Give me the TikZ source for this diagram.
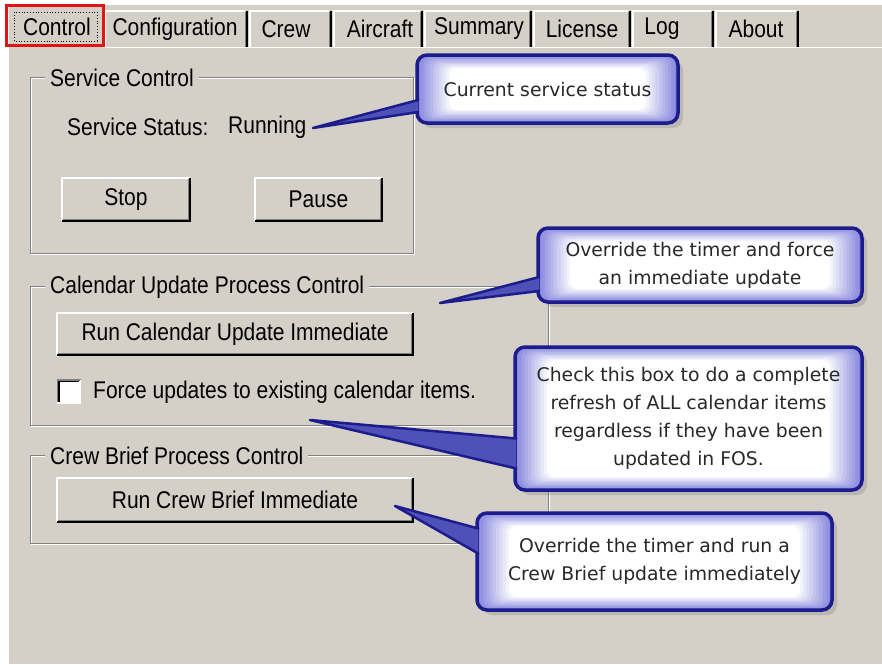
\documentclass[tikz,border=0pt]{standalone}
\usepackage{fontspec}
\usepackage{graphicx}
\setmainfont{Liberation Sans}
\newfontfamily\callfont{DejaVu Sans}
\usetikzlibrary{calc,shadows}
\definecolor{winbg}{RGB}{212,208,200}
\definecolor{windk}{RGB}{128,128,128}
\definecolor{navy}{RGB}{28,28,140}
\definecolor{cedge}{RGB}{135,135,222}
\definecolor{wedgefill}{RGB}{80,80,185}
\definecolor{redbox}{RGB}{225,20,20}
\definecolor{calltext}{RGB}{40,40,40}
\newcommand{\dt}[1]{\scalebox{1}[1.15]{#1}}
\tikzset{
  dlg/.style={font=\fontsize{21}{25}\selectfont, text=black, inner sep=0pt},
  grplabel/.style={dlg, fill=winbg, inner xsep=5pt, inner ysep=2pt, anchor=west},
  btn/.style={dlg, fill=winbg},
  callbox/.style={draw=navy, line width=3.5pt, rounded corners=10pt, fill=cedge,
    drop shadow={shadow xshift=5pt, shadow yshift=-5pt, opacity=0.3},
    path picture={
      \foreach \i in {1,...,10} {
        \pgfmathtruncatemacro{\pc}{100-10*\i}
        \fill[cedge!\pc!white, rounded corners=8pt]
          ([shift={(3.2*\i,1.3*\i)}]path picture bounding box.north west) rectangle
          ([shift={(-3.2*\i,-1.3*\i)}]path picture bounding box.south east);
      }
    },
    font=\callfont\fontsize{18.8}{28}\selectfont, text=calltext, align=center, inner sep=0pt},
  wedge/.style={fill=wedgefill, draw=navy, line width=2.5pt, line join=round, line cap=round}
}
\begin{document}
\begin{tikzpicture}[x=1pt,y=-1pt]
\useasboundingbox (0,0) rectangle (882,664);
\fill[white] (0,0) rectangle (882,664);
\fill[winbg] (7,5) rectangle (882,664);
% panel highlights
\draw[white,line width=1.5] (103,47.5) -- (882,47.5);
\draw[white,line width=1.5] (7.75,47) -- (7.75,664);
% unselected tabs
\foreach \nm/\xa/\xb/\xt/\tx in {config/104/247/175/Configuration, crew/249/331/286/Crew, aircraft/333/422/380/Aircraft, summary/424/531/479/Summary, license/533/630/582/License, log/632/713/662/Log, about/715/798/756/About} {
  \draw[white,line width=1.5] ({\xa+0.75},47) -- ({\xa+0.75},10.75) -- ({\xb-2},10.75);
  \draw[black,line width=1.5] (\xb,11) -- (\xb,47);
  \draw[windk,line width=1] ({\xb-1.75},12) -- ({\xb-1.75},47);
  \node[dlg] (tab-\nm) at (\xt,29) {\dt{\tx}};
}
% selected tab
\draw[white,line width=1.5] (7.75,47) -- (7.75,5.75) -- (101,5.75);
\node[dlg] (tab-control) at (57,27) {\dt{Control}};
\draw[black,dotted,line width=0.8] (14,12) rectangle (97,41);
\draw[redbox,line width=3] (6,5.5) rectangle (103,45);
% group boxes
\draw[white] (31,78) rectangle (414,254);
\draw[windk] (30,77) rectangle (413,253);
\node[grplabel] (grp-service) at (45,78) {\dt{Service Control}};
\draw[white] (31,287) rectangle (549,426);
\draw[windk] (30,286) rectangle (548,425);
\node[grplabel] (grp-calendar) at (45,287) {\dt{Calendar Update Process Control}};
\draw[white] (31,456) rectangle (549,544);
\draw[windk] (30,455) rectangle (548,543);
\node[grplabel] (grp-crew) at (45,456) {\dt{Crew Brief Process Control}};
% status line
\node[dlg,anchor=west] (status) at (67,127) {\dt{Service Status:}};
\node[dlg,anchor=west] (running) at (228,127) {\dt{Running}};
% buttons
\node[btn,minimum width=128,minimum height=43] (stop) at (126,199.5) {\dt{Stop}};
\node[btn,minimum width=127,minimum height=43] (pause) at (318.5,199.5) {\dt{Pause}};
\node[btn,minimum width=356,minimum height=42] (runcal) at (235,334) {\dt{Run Calendar Update Immediate}};
\node[btn,minimum width=356,minimum height=44] (runcrew) at (235,500) {\dt{Run Crew Brief Immediate}};
\foreach \b in {stop,pause,runcal,runcrew} {
  \draw[white,line width=1.5] (\b.south west) |- (\b.north east);
  \draw[black,line width=1.5] (\b.south west) -| (\b.north east);
  \draw[windk,line width=1.5] ([shift={(1.5,-1.5)}]\b.south west) -| ([shift={(-1.5,1.5)}]\b.north east);
}
% checkbox
\node[fill=white,minimum size=23,inner sep=0pt] (chk) at (69,391.5) {};
\draw[windk,line width=1.5] (chk.south west) |- (chk.north east);
\draw[black,line width=1.5] ([shift={(1.5,-1.5)}]chk.south west) |- ([shift={(-1.5,1.5)}]chk.north east);
\draw[white,line width=1.5] (chk.south west) -| (chk.north east);
\node[dlg,anchor=west] (force) at (93,392) {\dt{Force updates to existing calendar items.}};
% callouts
\node[callbox,minimum width=261,minimum height=68] (call-status) at (547.5,89) {Current service status};
\coordinate (tip-status) at (313,128);
\filldraw[wedge] ($(call-status.west)+(3,11)$) -- (tip-status) -- ($(call-status.west)+(3,23)$);

\node[callbox,minimum width=324,minimum height=74] (call-force) at (700,265) {Override the timer and force\\an immediate update};
\coordinate (tip-force) at (440,303);
\filldraw[wedge] ($(call-force.west)+(3,12)$) -- (tip-force) -- ($(call-force.west)+(3,26)$);

\node[callbox,minimum width=347,minimum height=143] (call-check) at (688.5,418.5) {Check this box to do a complete\\refresh of ALL calendar items\\regardless if they have been\\updated in FOS.};
\coordinate (tip-check) at (310,420);
\filldraw[wedge] ($(call-check.west)+(3,20)$) -- (tip-check) -- ($(call-check.west)+(3,50)$);

\node[callbox,minimum width=355,minimum height=97] (call-crew) at (654.5,561.5) {Override the timer and run a\\Crew Brief update immediately};
\coordinate (tip-crew) at (395,506);
\filldraw[wedge] ($(call-crew.west)+(3,-33)$) -- (tip-crew) -- ($(call-crew.west)+(3,-8)$);
\end{tikzpicture}
\end{document}
